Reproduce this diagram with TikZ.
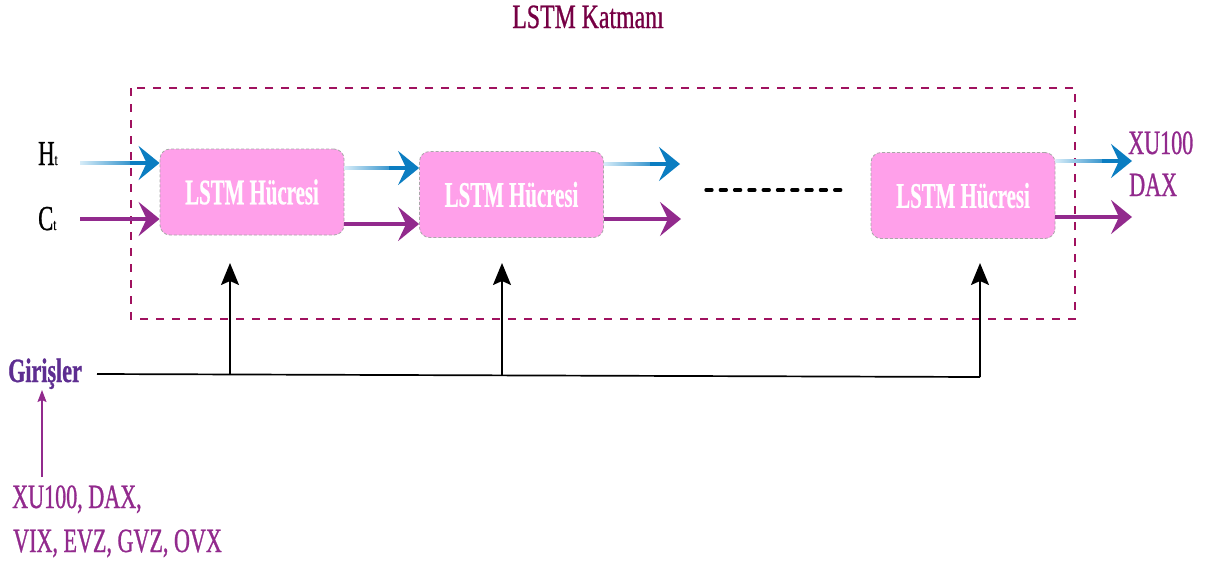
\documentclass[tikz,border=0pt]{standalone}
\usepackage{fontspec}
\setmainfont{Liberation Serif}
\newfontfamily\narrowserif[FakeStretch=0.65,FakeBold=0.8]{Liberation Serif}
\newfontfamily\titleserif[FakeStretch=0.7,FakeBold=0.8]{Liberation Serif}
\newfontfamily\cellserif[FakeStretch=0.58,FakeBold=0.5]{Liberation Serif}
\usetikzlibrary{arrows.meta,calc}

\definecolor{layerline}{HTML}{A0125F}
\definecolor{titlecol}{HTML}{760044}
\definecolor{cellfill}{HTML}{FFA0EA}
\definecolor{cellborder}{HTML}{A8A8A8}
\definecolor{flowblue}{HTML}{0B7DC1}
\definecolor{flowsky}{HTML}{D6ECF8}
\definecolor{flowpurple}{HTML}{922A8D}
\definecolor{inputviolet}{HTML}{5E2E91}

\tikzset{
  bigtip/.style={-{Stealth[length=21pt,width=34pt,inset=8pt]}},
  lstmcell/.style={rounded corners=10pt, fill=cellfill, draw=cellborder,
    dash pattern=on 3pt off 2pt, line width=0.8pt,
    minimum width=184pt, minimum height=86pt, inner sep=0pt,
    text=white, font=\cellserif\bfseries\fontsize{36}{40}\selectfont},
  lbl/.style={anchor=base west, inner sep=0pt,
    font=\narrowserif\fontsize{34}{36}\selectfont},
  purpleflow/.style={flowpurple, line width=3.2pt, bigtip},
  feed/.style={black, line width=1.7pt, -{Stealth[length=22pt,width=18pt,inset=4pt]}}
}

% shaded blue shaft followed by a solid blue head
\newcommand\hiddenflow[2]{%
  \shade[left color=flowsky, right color=flowblue]
    ($(#1)+(0,-1.6)$) rectangle ($(#2)+(-16,1.6)$);
  \draw[flowblue, line width=3.2pt, bigtip] ($(#2)+(-30,0)$) -- (#2);}

\begin{document}
\begin{tikzpicture}[x=1pt,y=-1pt]
\useasboundingbox (0,0) rectangle (1206,565);

% layer frame and title
\node[lbl, anchor=base, text=titlecol, font=\titleserif\fontsize{34}{36}\selectfont]
  (title) at (588,28) {LSTM Katmanı};
\draw[layerline, line width=1.1pt, dash pattern=on 8pt off 8pt]
  (131,88) rectangle (1075,319);

% cells
\node[lstmcell] (b1) at (252,192) {LSTM Hücresi};
\node[lstmcell] (b2) at (511.5,194.5) {LSTM Hücresi};
\node[lstmcell] (b3) at (963,195.5) {LSTM Hücresi};

% state labels
\node[lbl, font=\narrowserif\fontsize{35}{36}\selectfont] (ht) at (38,165)
  {H{\fontsize{16}{16}\selectfont t}};
\node[lbl, font=\narrowserif\fontsize{35}{36}\selectfont] (ct) at (38,230)
  {C{\fontsize{16}{16}\selectfont t}};

% incoming states
\coordinate (h0) at (80,163);
\coordinate (c0) at (80,219);
\hiddenflow{h0}{b1.west |- h0}
\draw[purpleflow] (c0) -- (b1.west |- c0);

% cell 1 -> cell 2
\coordinate (h1) at (b1.east |- 0,168);
\coordinate (c1) at (b1.east |- 0,224);
\hiddenflow{h1}{b2.west |- h1}
\draw[purpleflow] (c1) -- (b2.west |- c1);

% cell 2 outputs
\coordinate (h2) at (b2.east |- 0,164);
\coordinate (c2) at (b2.east |- 0,219);
\coordinate (h2e) at (680,164);
\coordinate (c2e) at (681,219);
\hiddenflow{h2}{h2e}
\draw[purpleflow] (c2) -- (c2e);

% repeated cells
\coordinate (gapL) at (706,190);
\coordinate (gapR) at (848,190);
\draw[line width=3.3pt, line cap=round, dash pattern=on 6pt off 8.3pt] (gapL) -- (gapR);

% cell 3 outputs
\coordinate (h3) at (b3.east |- 0,161);
\coordinate (c3) at (b3.east |- 0,217);
\coordinate (h3e) at (1132,161);
\coordinate (c3e) at (1132,217);
\hiddenflow{h3}{h3e}
\draw[purpleflow] (c3) -- (c3e);

\node[lbl, text=flowpurple] (outa) at (1128,154) {XU100};
\node[lbl, text=flowpurple] (outb) at (1129,196) {DAX};

% inputs
\node[lbl, text=inputviolet, font=\narrowserif\bfseries\fontsize{34}{36}\selectfont]
  (gir) at (8,382) {Girişler};
\coordinate (busL) at (97,374);
\coordinate (busR) at (980,377);
\coordinate (in1) at (230,263);
\coordinate (in2) at (502,263);
\coordinate (in3) at (980,263);
\draw[line width=1.7pt] (busL) -- (busR);
\draw[feed] ($(busL)!0.1506!(busR)$) -- (in1);
\draw[feed] ($(busL)!0.4587!(busR)$) -- (in2);
\draw[feed] (busR) -- (in3);

\node[lbl, text=flowpurple] (srca) at (12,508) {XU100, DAX,};
\node[lbl, text=flowpurple] (srcb) at (13,552) {VIX, EVZ, GVZ, OVX};
\draw[flowpurple, line width=1.3pt, -{Stealth[length=12pt,width=9pt,inset=2pt]}]
  (srca.north -| 42,0) ++(0,-8) -- (42,390);
\end{tikzpicture}
\end{document}
